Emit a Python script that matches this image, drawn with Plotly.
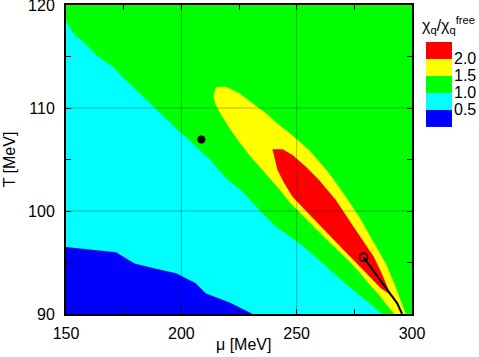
import plotly.graph_objects as go

# ---- data (mu in MeV, T in MeV) ----
mu_range = [150, 300]
T_range = [90, 120]
mu_ticks = [150, 200, 250, 300]
T_ticks = [90, 100, 110, 120]

# region chi/chi_free < 0.5
blue_mu = [150, 150, 171.7, 179.7, 189.0, 197.7, 206.1, 210.7, 221.2, 230.9]
blue_T = [90, 96.5, 96.0, 94.9, 94.4, 93.95, 93.0, 92.0, 91.1, 90]

# region chi/chi_free < 1.0
cyan_mu = [150, 150, 153.7, 158.0, 163.8, 170.3, 174.6, 180.4, 188.3, 196.2, 204.9,
           207.8, 212.6, 219.4, 225.8, 233.8, 241.0, 251.1, 259.7, 268.4, 277.1, 287.1]
cyan_T = [90, 118.4, 117.1, 116.3, 115.0, 114.0, 113.0, 111.75, 110.0, 108.35, 106.57,
          105.92, 104.95, 103.17, 102.04, 100.1, 98.48, 96.89, 95.24, 93.47, 91.84, 90]

# region chi/chi_free > 1.5
yellow_mu = [215.0, 219.4, 225.1, 230.9, 236.7, 242.4, 247.4, 255.4, 264.1, 271.3,
             277.1, 282.8, 288.6, 292.9, 297.3, 292.2, 285.7, 281.4, 277.1, 272.7,
             268.4, 264.1, 259.7, 255.4, 251.1, 246.8, 242.4, 238.1, 233.8, 229.4,
             225.1, 220.8, 217.3, 214.9, 213.9]
yellow_T = [112.04, 112.07, 111.43, 110.46, 109.49, 108.35, 107.48, 105.92, 103.66, 101.39,
            99.45, 97.18, 94.92, 92.65, 90, 90, 91.84, 92.91, 94.08, 95.15,
            96.12, 96.99, 97.96, 98.93, 99.90, 100.87, 102.14, 103.20, 104.27, 105.44,
            106.70, 108.06, 109.32, 110.29, 111.17]

# region chi/chi_free > 2.0
red_mu = [239.5, 243.9, 248.2, 254.0, 259.7, 267.0, 272.7, 279.2, 283.5, 287.0, 290.0,
          290.8, 286.5, 277.1, 268.4, 259.7, 253.2, 248.2, 244.6, 241.7, 240.3]
red_T = [106.0, 106.0, 105.44, 104.30, 103.01, 101.07, 99.13, 96.99, 95.53, 93.88, 92.33,
         91.84, 92.50, 94.72, 96.68, 98.69, 100.19, 101.39, 102.69, 103.98, 105.27]

# first-order line ending at the critical point
line_mu = [279.0, 290.0, 293.6, 295.7]
line_T = [95.5, 92.23, 91.04, 90.0]

dot_mu, dot_T = [208.7], [106.94]      # filled point
cep_mu, cep_T = [279.0], [95.5]        # critical end point (open circle)

legend_levels = ["2.0", "1.5", "1.0", "0.5"]
legend_colors = ["#ff0000", "#ffff00", "#00ff00", "#00ffff", "#0000ff"]
GREEN = "#00ff00"

FONT = "Liberation Sans, Arial, Helvetica, sans-serif"

fig = go.Figure()

def region(mu, T, color):
    fig.add_trace(go.Scatter(x=mu, y=T, mode="lines", fill="toself", fillcolor=color,
                             line=dict(width=0, color=color), hoverinfo="skip",
                             showlegend=False))

region(cyan_mu, cyan_T, "#00ffff")
region(blue_mu, blue_T, "#0000ff")
region(yellow_mu, yellow_T, "#ffff00")
region(red_mu, red_T, "#ff0000")

fig.add_trace(go.Scatter(x=line_mu, y=line_T, mode="lines",
                         line=dict(color="black", width=2), showlegend=False))
fig.add_trace(go.Scatter(x=cep_mu, y=cep_T, mode="markers",
                         marker=dict(symbol="circle-open", size=8, color="black",
                                     line=dict(width=1.5)), showlegend=False))
fig.add_trace(go.Scatter(x=dot_mu, y=dot_T, mode="markers",
                         marker=dict(symbol="circle", size=8, color="black"),
                         showlegend=False))

shapes = []
# grid lines drawn above the filled regions
for m in mu_ticks[1:-1]:
    shapes.append(dict(type="line", xref="x", yref="paper", x0=m, x1=m, y0=0, y1=1,
                       line=dict(color="rgba(0,0,0,0.28)", width=1), layer="above"))
for t in T_ticks[1:-1]:
    shapes.append(dict(type="line", xref="paper", yref="y", x0=0, x1=1, y0=t, y1=t,
                       line=dict(color="rgba(0,0,0,0.28)", width=1), layer="above"))

# colour key
key_x0, key_x1 = 1.0405, 1.1156
key_top, key_step = 0.8803, 0.0550
for i, c in enumerate(legend_colors):
    shapes.append(dict(type="rect", xref="paper", yref="paper", x0=key_x0, x1=key_x1,
                       y0=key_top - (i + 1) * key_step, y1=key_top - i * key_step,
                       fillcolor=c, line=dict(width=0)))

annotations = []
for i, lab in enumerate(legend_levels):
    annotations.append(dict(xref="paper", yref="paper", x=1.116, y=key_top - (i + 1) * key_step,
                            text=lab, showarrow=False, xanchor="left", yanchor="middle",
                            font=dict(family=FONT, size=16, color="black")))
annotations.append(dict(xref="paper", yref="paper", x=1.022, y=0.935,
                        text="χ<sub>q</sub>/χ<sub>q</sub><sup>free</sup>",
                        showarrow=False, xanchor="left", yanchor="middle",
                        font=dict(family=FONT, size=16, color="black")))
# x-axis title
annotations.append(dict(xref="paper", yref="paper", x=0.513, y=-0.100,
                        text="μ [MeV]", showarrow=False, xanchor="center", yanchor="middle",
                        font=dict(family=FONT, size=16, color="black")))

axis_common = dict(showline=True, linewidth=2, linecolor="black", mirror="allticks",
                   ticks="inside", ticklen=5, tickwidth=1, tickcolor="black",
                   showgrid=False, zeroline=False, ticklabeloverflow="allow",
                   tickfont=dict(family=FONT, size=16, color="black"))

fig.update_layout(
    width=479, height=357,
    margin=dict(l=66, r=67, t=5, b=43),
    paper_bgcolor="white", plot_bgcolor=GREEN,
    shapes=shapes, annotations=annotations,
    xaxis=dict(range=mu_range, tickvals=mu_ticks, **axis_common,
               minor=dict(ticks="inside", ticklen=5, dtick=25, tick0=150, tickcolor="black"),
               ticklabelstandoff=4,
               automargin=False),
    yaxis=dict(range=T_range, tickvals=T_ticks, **axis_common,
               minor=dict(ticks="inside", ticklen=5, dtick=5, tick0=90, tickcolor="black"),
               ticklabelstandoff=6,
               title=dict(text="T [MeV]", standoff=8,
                          font=dict(family=FONT, size=16, color="black")),
               automargin=False),
)

fig.write_html("out.html", config={"displayModeBar": False},
               post_script="document.body.style.margin='0px';")
